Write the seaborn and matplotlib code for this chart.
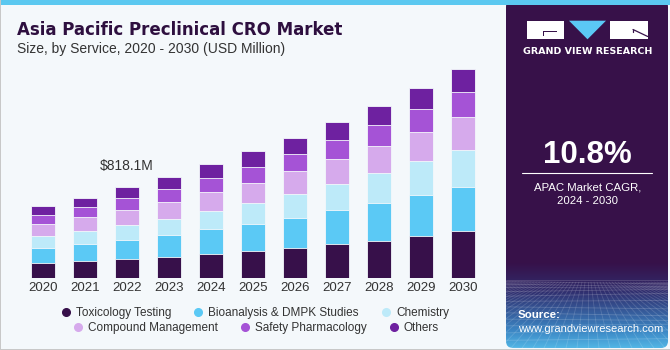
import numpy as np
import pandas as pd
import matplotlib
matplotlib.use("Agg")
import matplotlib.pyplot as plt
import seaborn as sns
from matplotlib.lines import Line2D
from matplotlib.patches import Rectangle, Polygon, FancyBboxPatch

# ---------------- data ----------------
years = ["2020", "2021", "2022", "2023", "2024", "2025", "2026", "2027", "2028", "2029", "2030"]
services = ["Toxicology Testing", "Bioanalysis & DMPK Studies", "Chemistry",
            "Compound Management", "Safety Pharmacology", "Others"]
toxicology = [135, 153, 173.5, 195, 221, 245, 275, 311, 338, 383, 422]
bioanalysis = [135, 153, 171, 192, 219, 243, 270, 303, 339, 366, 401]
chemistry = [108, 123, 135, 150, 167, 189, 210, 234, 267, 303, 327]
compound = [108, 120, 135, 150, 168, 183, 207, 225, 245, 266, 297]
safety = [81, 90, 105, 117, 126, 141, 156, 171, 186, 204, 227]
others = [81, 87, 98.6, 111, 126, 144, 144, 159, 171, 191, 204]
series = [toxicology, bioanalysis, chemistry, compound, safety, others]
colors = ["#37104a", "#5bc9f5", "#bdeaf9", "#d6aaec", "#a553d6", "#6e21a0"]
annot_year = "2022"
annot_text = "$818.1M"

# ---------------- style ----------------
sns.set_style("white")
plt.rcParams["font.family"] = ["Liberation Sans", "DejaVu Sans"]
BG = "#f4f8fb"
W, H = 670, 350
fig = plt.figure(figsize=(W / 100, H / 100), dpi=100, facecolor=BG)

def fx(x):
    return x / W

def fy(y):
    return 1 - y / H

# main axes
ax = fig.add_axes([fx(22), fy(278.3), fx(462), (218.3) / H])
ax.set_facecolor(BG)

df = pd.DataFrame({"year": years})
cum = np.zeros(len(years))
cums = []
for s in series:
    cum = cum + np.array(s, dtype=float)
    cums.append(cum.copy())
for name, c in zip(services, cums):
    df[name] = c

for name, col in reversed(list(zip(services, colors))):
    sns.barplot(data=df, x="year", y=name, color=col, saturation=1, width=0.57,
                errorbar=None, edgecolor=BG, linewidth=0.6, ax=ax, order=years)

ax.set_xlim(-0.5, len(years) - 0.5)
ax.set_ylim(0, 1963)
ax.set_xlabel("")
ax.set_ylabel("")
ax.set_yticks([])
sns.despine(ax=ax, left=True, bottom=True)
ax.tick_params(axis="x", length=0, pad=3, labelsize=9.5, labelcolor="#333333")

# annotation
i = years.index(annot_year)
ax.annotate(annot_text, xy=(i, df[services[-1]][i]), xytext=(0, 10),
            textcoords="offset points", ha="center", va="bottom",
            fontsize=10, color="#333333")

# legend (two centered rows)
def handles(names, cols):
    return [Line2D([0], [0], marker="o", color="none", markerfacecolor=c,
                   markeredgecolor=c, markersize=5.5, label=n) for n, c in zip(names, cols)]

leg_kw = dict(loc="center", ncol=3, frameon=False, fontsize=8.5, handletextpad=0.25,
              columnspacing=1.7, handlelength=1.2, labelcolor="#333333",
              borderaxespad=0, borderpad=0)
fig.legend(handles=handles(services[:3], colors[:3]), bbox_to_anchor=(fx(254), fy(313)), **leg_kw)
fig.legend(handles=handles(services[3:], colors[3:]), bbox_to_anchor=(fx(255), fy(328)), **leg_kw)

# titles
fig.text(fx(17), fy(30), "Asia Pacific Preclinical CRO Market", fontsize=12,
         fontweight="bold", color="#2e0f3f", va="center", ha="left",
         family=["DejaVu Sans"])
fig.text(fx(17), fy(49), "Size, by Service, 2020 - 2030 (USD Million)", fontsize=10,
         color="#333333", va="center", ha="left")

# top strip and borders
fig.patches.append(Rectangle((0, fy(5)), 1, 5 / H, transform=fig.transFigure,
                             facecolor="#5bc8f0", edgecolor="none", zorder=5))
fig.patches.append(Rectangle((0, 0), fx(1.2), 1, transform=fig.transFigure,
                             facecolor="#c8c8c8", edgecolor="none", zorder=5))
fig.patches.append(Rectangle((0, 0), 1, 1.5 / H, transform=fig.transFigure,
                             facecolor="#c8c8c8", edgecolor="none", zorder=5))

# right panel
pax = fig.add_axes([fx(506), 0, fx(670 - 506), 1])
pax.axis("off")
top = np.array([0x37, 0x11, 0x49]) / 255
mid = np.array([0x30, 0x2c, 0x6c]) / 255
low = np.array([0x3c, 0x86, 0xc4]) / 255
bot = np.array([0x55, 0xbd, 0xea]) / 255
grad = np.zeros((350, 1, 3))
for yy in range(350):
    if yy < 262:
        c = top
    elif yy < 290:
        t = (yy - 262) / 28
        c = top * (1 - t) + mid * t
    elif yy < 330:
        t = (yy - 290) / 40
        c = mid * (1 - t) + low * t
    else:
        t = (yy - 330) / 20
        c = low * (1 - t) + bot * t
    grad[yy, 0] = c
im = pax.imshow(grad, extent=(0, 164, 350, 0), aspect="auto", zorder=0)
clip = FancyBboxPatch((0, 0), 162, 348, boxstyle="round,pad=0,rounding_size=7",
                      transform=pax.transData, facecolor="none", edgecolor="none")
pax.add_patch(clip)
im.set_clip_path(clip)
# faint perspective grid
for k in range(14):
    yv = 280 + (k ** 1.5) * 1.45
    if yv < 348:
        pax.plot([0, 162], [yv, yv + 3 * np.sin(k)], color="white", alpha=0.18, lw=0.6, zorder=1)
for k in range(-20, 40):
    x0 = 82 + (k - 10) * 3
    x1 = 82 + (k - 10) * 11
    pax.plot([x0, x1], [282, 348], color="white", alpha=0.15, lw=0.6, zorder=1)
pax.set_xlim(0, 164)
pax.set_ylim(350, 0)

# logo
def px(x):
    return x - 506

pax.add_patch(Rectangle((px(527), 20.7), 36.5, 18.6, facecolor="white", edgecolor="none", zorder=3))
pax.add_patch(Rectangle((px(543), 30.5), 14, 1.3, facecolor="#37114a", edgecolor="none", zorder=4))
pax.add_patch(Rectangle((px(543), 30.5), 1.3, 5, facecolor="#37114a", edgecolor="none", zorder=4))
pax.add_patch(Polygon([(px(569), 20.7), (px(606), 20.7), (px(587.5), 39.3)],
                      closed=True, facecolor="#5bc8f5", edgecolor="none", zorder=3))
pax.add_patch(Rectangle((px(610), 20.7), 37.7, 18.6, facecolor="white", edgecolor="none", zorder=3))
pax.plot([px(633), px(647.7)], [29.5, 36.5], color="#37114a", lw=0.9, zorder=4)
pax.plot([px(633), px(633)], [29.5, 32], color="#37114a", lw=0.9, zorder=4)
pax.text(px(587.5), 51, "GRAND VIEW RESEARCH", color="white", fontsize=6.8,
         fontweight="bold", ha="center", va="center", family=["DejaVu Sans"], zorder=4)

pax.text(px(587.5), 155, "10.8%", color="white", fontsize=22.5, fontweight="bold",
         ha="center", va="center", zorder=4)
pax.plot([px(522), px(652)], [173, 173], color="white", lw=0.8, zorder=4)
pax.text(px(587.5), 187, "APAC Market CAGR,", color="white", fontsize=8.2,
         ha="center", va="center", zorder=4)
pax.text(px(587.5), 201.5, "2024 - 2030", color="white", fontsize=8.2,
         ha="center", va="center", zorder=4)
pax.text(px(518), 315.5, "Source:", color="white", fontsize=8.2, fontweight="bold",
         ha="left", va="center", zorder=4)
pax.text(px(518), 329.5, "www.grandviewresearch.com", color="white", fontsize=8.0,
         ha="left", va="center", zorder=4)

fig.savefig("out.png", dpi=100, facecolor=BG)
